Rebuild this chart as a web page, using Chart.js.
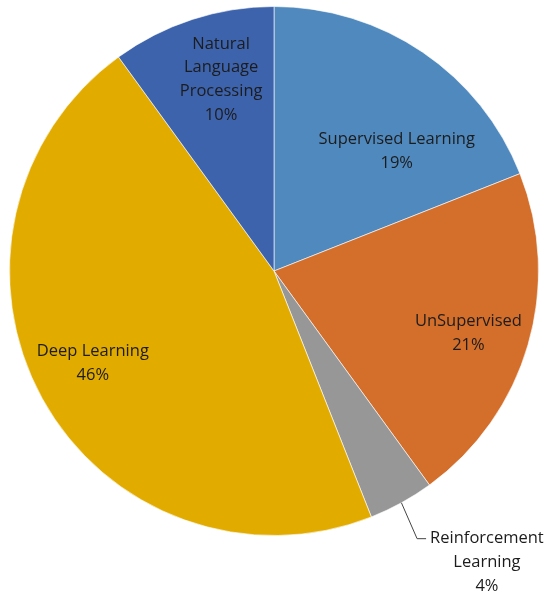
<!DOCTYPE html>
<html>
<head>
<meta charset="utf-8">
<script src="https://cdn.jsdelivr.net/npm/chart.js@4"></script>
<style>
  html, body { margin: 0; padding: 0; background: #fff; }
  canvas { display: block; }
</style>
</head>
<body>
<canvas id="pie" width="550" height="598"></canvas>
<script>
const categories = ['Supervised Learning', 'UnSupervised', 'Reinforcement Learning', 'Deep Learning', 'Natural Language Processing'];
const shares = [19, 21, 4, 46, 10];
const labelLines = [
  ['Supervised Learning', '19%'],
  ['UnSupervised', '21%'],
  ['Reinforcement', 'Learning', '4%'],
  ['Deep Learning', '46%'],
  ['Natural', 'Language', 'Processing', '10%'],
];
const colors = ['#4f89be', '#d46e2b', '#979797', '#e2ab00', '#3d63ad'];

// label centre relative to pie centre, in units of radius
const labelPos = [
  { x: 0.464, y: -0.453 },
  { x: 0.735, y: 0.237 },
  { x: 0.805, y: 1.102 },
  { x: -0.685, y: 0.350 },
  { x: -0.200, y: -0.724 },
];
const lineH = 23.8;

const pieLabels = {
  id: 'pieLabels',
  afterDatasetsDraw(chart) {
    const ctx = chart.ctx;
    const arcs = chart.getDatasetMeta(0).data;
    ctx.save();
    ctx.font = '16.5px "Open Sans", sans-serif';
    ctx.fillStyle = '#1c1c1c';
    ctx.textAlign = 'center';
    ctx.textBaseline = 'middle';
    arcs.forEach((arc, i) => {
      const { x: cx, y: cy, outerRadius: r, startAngle, endAngle } = arc.getProps(['x', 'y', 'outerRadius', 'startAngle', 'endAngle'], true);
      const lines = labelLines[i];
      const lx = cx + labelPos[i].x * r;
      const ly = cy + labelPos[i].y * r;
      const top = ly - (lines.length - 1) * lineH / 2;
      lines.forEach((t, k) => ctx.fillText(t, lx, top + k * lineH));
      if (i === 2) {
        // leader line for the small slice
        const mid = (startAngle + endAngle) / 2;
        const ex = cx + Math.cos(mid) * r;
        const ey = cy + Math.sin(mid) * r;
        const w = ctx.measureText(lines[0]).width;
        const tx = lx - w / 2 - 4;
        ctx.strokeStyle = '#444';
        ctx.lineWidth = 1;
        ctx.beginPath();
        ctx.moveTo(ex, ey);
        ctx.lineTo(tx - 9, top);
        ctx.lineTo(tx, top);
        ctx.stroke();
      }
    });
    ctx.restore();
  }
};

new Chart(document.getElementById('pie'), {
  type: 'pie',
  data: {
    labels: categories,
    datasets: [{
      data: shares,
      backgroundColor: colors,
      borderColor: 'rgba(255,255,255,0.6)',
      borderWidth: 1,
    }],
  },
  options: {
    responsive: false,
    animation: false,
    rotation: 0,
    layout: { padding: { left: 9, right: 11, top: 6, bottom: 62 } },
    plugins: { legend: { display: false }, tooltip: { enabled: false } },
  },
  plugins: [pieLabels],
});
</script>
</body>
</html>
